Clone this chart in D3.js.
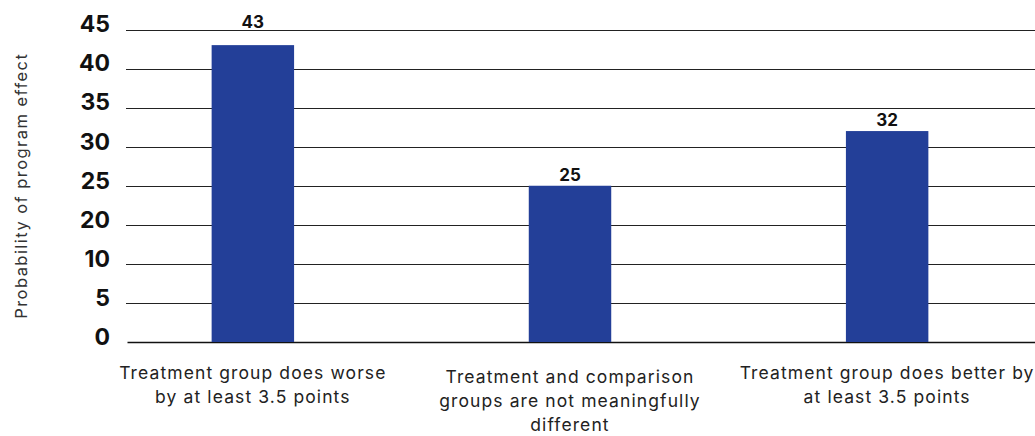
<!DOCTYPE html>
<html>
<head>
<meta charset="utf-8">
<script src="https://cdn.jsdelivr.net/npm/d3@7"></script>
<style>
	body { margin: 0; background: #ffffff; }
	svg { display: block; font-family: 'Inter', 'Lato', sans-serif; }
</style>
</head>
<body>
<div id="chart"></div>
<script>

	// chart values
	const categories = [
		['Treatment group does worse', 'by at least 3.5 points'],
		['Treatment and comparison', 'groups are not meaningfully', 'different'],
		['Treatment group does better by', 'at least 3.5 points']
	];
	const values = [43, 25, 32];
	// the source axis skips 15 but keeps the gridlines evenly spaced
	const tickLabels = [0, 5, 10, 20, 25, 30, 35, 40, 45];
	const axisTitle = 'Probability of program effect';

	const width = 1035;
	const height = 436;

	let dimensions = {
		margin: {
			top: 29.5,
			bottom: 94,
			left: 126,
			right: 0,
		},
	}

	let svg = d3.select('#chart')
		.append('svg')
		.attr('width', width)
		.attr('height', height);

	const plotBottom = height - dimensions.margin.bottom;

	// piecewise scale, one even step for each tick label
	let yScale = d3.scaleLinear()
		.domain(tickLabels)
		.range(tickLabels.map(function(d, i){
			return plotBottom - i * (plotBottom - dimensions.margin.top) / (tickLabels.length - 1);
		}));
	const yTop = yScale(tickLabels[tickLabels.length - 1]);

	let xScale = d3.scaleBand()
		.domain(d3.range(categories.length))
		.range([dimensions.margin.left, 1014])
		.paddingInner(0.74)
		.paddingOuter(0.27);

	// gridlines
	svg.append('g')
		.selectAll('line')
		.data(tickLabels)
		.enter()
		.append('line')
		.attr('x1', function(d){ return d === 0 ? dimensions.margin.left + 1.5 : dimensions.margin.left; })
		.attr('x2', width)
		.attr('y1', function(d){ return Math.round(yScale(d)) + 0.5; })
		.attr('y2', function(d){ return Math.round(yScale(d)) + 0.5; })
		.attr('stroke', function(d){ return d === 0 ? '#111111' : '#222222'; })
		.attr('stroke-width', function(d){ return d === 0 ? 1.6 : 1.2; });

	// y axis labels
	let yAxis = d3.axisLeft(yScale)
		.tickValues(tickLabels)
		.tickSize(0)
		.tickPadding(0)
		.tickFormat(d3.format('d'));

	svg.append('g')
		.attr('transform', 'translate(110,0)')
		.call(yAxis)
		.call(function(g){ g.select('.domain').remove(); })
		.selectAll('text')
		.attr('font-family', 'Inter, sans-serif')
		.attr('font-size', 23)
		.attr('font-weight', 700)
		.attr('fill', '#111111')
		.attr('dy', '0.1em');

	// bars
	svg.append('g')
		.selectAll('rect')
		.data(values)
		.enter()
		.append('rect')
		.attr('x', function(d, i){ return xScale(i); })
		.attr('width', xScale.bandwidth())
		.attr('y', function(d){ return yScale(d); })
		.attr('height', function(d){ return plotBottom - yScale(d); })
		.attr('fill', '#233F98');

	// value labels, moved above the top gridline when they would cross it
	svg.append('g')
		.selectAll('text')
		.data(values)
		.enter()
		.append('text')
		.attr('x', function(d, i){ return xScale(i) + xScale.bandwidth() / 2; })
		.attr('y', function(d){
			const ly = yScale(d) - 5;
			return ly - 13 < yTop ? yTop - 2 : ly;
		})
		.attr('text-anchor', 'middle')
		.attr('font-size', 17)
		.attr('font-weight', 700)
		.attr('fill', '#111111')
		.text(function(d){ return d; });

	// category labels
	let catLabels = svg.append('g')
		.selectAll('text')
		.data(categories)
		.enter()
		.append('text')
		.attr('x', function(d, i){ return xScale(i) + xScale.bandwidth() / 2; })
		.attr('y', function(d){ return d.length > 2 ? plotBottom + 41 : plotBottom + 37; })
		.attr('text-anchor', 'middle')
		.attr('font-size', 17.5)
		.attr('letter-spacing', 1.1)
		.attr('fill', '#222222');

	catLabels.selectAll('tspan')
		.data(function(d){ return d; })
		.enter()
		.append('tspan')
		.attr('x', function(){ return d3.select(this.parentNode).attr('x'); })
		.attr('dy', function(d, i){ return i === 0 ? 0 : 24; })
		.text(function(d){ return d; });

	// axis title
	svg.append('text')
		.attr('transform', 'translate(27,' + ((plotBottom + dimensions.margin.top) / 2) + ') rotate(-90)')
		.attr('text-anchor', 'middle')
		.attr('font-size', 16.5)
		.attr('letter-spacing', 1.45)
		.attr('fill', '#333333')
		.text(axisTitle);

</script>
</body>
</html>
